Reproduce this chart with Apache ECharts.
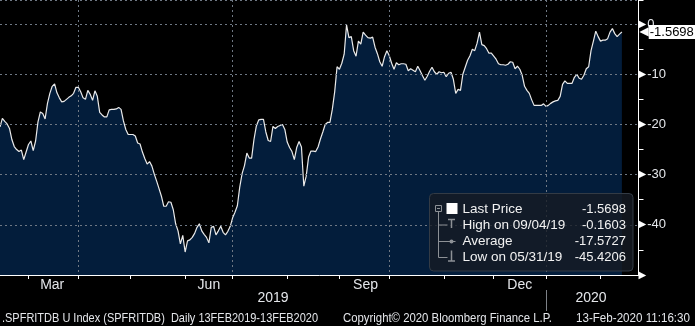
<!DOCTYPE html>
<html><head><meta charset="utf-8">
<script src="https://cdn.jsdelivr.net/npm/echarts@6/dist/echarts.min.js"></script>
<style>html,body{margin:0;padding:0;background:#000;overflow:hidden}#c{width:695px;height:326px}</style>
</head><body><div id="c"></div>
<script>
// ---------- data ----------
const startDate = [2019, 1, 13];      // 13 Feb 2019 (weekday calendar)
const categoryCount = 270;            // weekdays incl. right-hand padding
const values = [
-20.5,-18.8,-19.4,-19.9,-20.8,-23.0,-24.4,-25.0,-25.4,-25.1,
-27.0,-25.5,-24.0,-23.3,-25.2,-23.3,-19.5,-17.5,-17.8,-18.9,
-15.8,-13.8,-12.4,-11.9,-13.7,-14.7,-15.5,-15.4,-15.0,-14.6,
-14.3,-13.8,-12.6,-12.6,-13.5,-14.7,-15.0,-13.2,-14.0,-15.2,
-13.3,-14.4,-17.6,-18.1,-18.5,-18.5,-17.1,-17.0,-17.0,-16.9,
-16.6,-17.0,-19.3,-21.0,-22.0,-22.0,-22.0,-22.3,-23.7,-23.9,
-25.5,-26.8,-27.9,-27.4,-28.3,-29.9,-31.3,-32.8,-34.3,-36.3,
-36.3,-35.4,-35.5,-37.0,-39.8,-41.2,-43.8,-42.1,-45.4206,-43.2,
-43.0,-42.5,-41.7,-40.5,-39.8,-41.2,-41.9,-42.5,-43.6,-40.5,
-40.3,-42.0,-41.2,-40.3,-41.5,-42.0,-41.3,-40.3,-38.6,-37.5,
-36.2,-32.5,-29.8,-28.2,-25.7,-26.7,-26.7,-23.0,-20.3,-19.1,
-19.0,-19.0,-21.5,-23.2,-23.4,-20.4,-20.8,-20.4,-20.2,-20.0,
-21.0,-23.5,-24.6,-25.4,-27.0,-24.6,-23.4,-24.5,-32.3,-30.3,
-26.5,-25.3,-25.3,-25.4,-24.5,-22.9,-21.5,-20.0,-19.6,-19.6,
-17.0,-13.5,-8.5,-9.0,-7.8,-6.0,-0.1603,-2.7,-2.5,-5.3,
-6.4,-3.4,-4.0,-1.6,-2.2,-2.7,-2.8,-2.6,-4.6,-5.9,
-7.5,-8.4,-6.5,-5.3,-6.3,-7.8,-9.0,-7.7,-8.1,-7.9,
-7.9,-8.0,-9.3,-8.9,-9.2,-9.5,-8.4,-9.3,-10.3,-11.2,
-10.4,-9.4,-8.6,-9.5,-10.0,-9.5,-9.7,-9.6,-10.5,-9.8,
-9.6,-11.0,-13.8,-13.0,-13.2,-10.0,-8.6,-7.2,-6.3,-5.0,
-5.3,-3.8,-1.6,-4.1,-4.3,-4.9,-5.8,-5.8,-6.4,-7.0,
-7.9,-8.1,-8.1,-8.2,-8.0,-7.5,-7.6,-8.9,-8.4,-9.0,
-10.2,-12.4,-13.2,-13.8,-15.1,-16.2,-16.2,-16.2,-16.2,-15.9,
-16.4,-16.2,-15.8,-15.5,-15.3,-15.2,-14.4,-12.0,-11.3,-11.8,
-11.8,-11.8,-10.6,-10.0,-10.8,-11.0,-10.2,-8.9,-8.5,-5.3,
-3.4,-1.4,-2.5,-3.4,-3.2,-3.2,-2.9,-1.6,-0.9,-1.9,
-2.5,-2.0,-1.5698
];
const lastPrice = -1.5698;
const monthLabels = {'2019-03-15':'Mar','2019-06-17':'Jun','2019-09-17':'Sep','2019-12-17':'Dec'};
const yearLabels = {'2019-07-24':'2019','2020-01-28':'2020'};
const gridMonths = ['04','07','10','01'];
const yearBreak = '2020-01-01';
const yLabelValues = [0,-10,-20,-30,-40];
const legendNames = ['Last Price','High on 09/04/19','Average','Low on 05/31/19'];
const legendValues = ['-1.5698','-0.1603','-17.5727','-45.4206'];
const footerTexts = [
  '.SPFRITDB U Index (SPFRITDB)  Daily 13FEB2019-13FEB2020',
  'Copyright\u00A9 2020 Bloomberg Finance L.P.',
  '13-Feb-2020 11:16:30'
];

// ---------- categories (weekday calendar) ----------
const dates = [];
(function(){
  const d = new Date(Date.UTC(startDate[0], startDate[1], startDate[2]));
  while (dates.length < categoryCount) {
    const wd = d.getUTCDay();
    if (wd !== 0 && wd !== 6) dates.push(d.toISOString().slice(0,10));
    d.setUTCDate(d.getUTCDate() + 1);
  }
})();
const isMonthStart = i => i > 0 && dates[i].slice(5,7) !== dates[i-1].slice(5,7);
const isQuarterStart = i => isMonthStart(i) && gridMonths.indexOf(dates[i].slice(5,7)) >= 0;
const yearBreakDate = dates.find(d => d >= yearBreak);

const SANS = '"Liberation Sans",Arial,sans-serif';
const TXT = '#e4e6ea';
const GRID = '#6f7884';

// condensed text helper (no narrow font installed): squeeze to a target width
const mctx = document.createElement('canvas').getContext('2d');
function squeeze(text, size, target) {
  mctx.font = size + 'px "Liberation Sans"';
  const w = mctx.measureText(text).width;
  return Math.min(1, target / w);
}
const footerFont = 13.5;
const footerBoxes = [[2, 316, 'left'], [343, 209, 'left'], [690, 114, 'right']];
const footerEls = footerTexts.map((t, k) => ({
  type: 'text', x: footerBoxes[k][0], y: 318.5, scaleX: squeeze(t, footerFont, footerBoxes[k][1]), z: 100,
  style: {text: t, fill: TXT, font: footerFont + 'px ' + SANS, textAlign: footerBoxes[k][2], textVerticalAlign: 'middle'}
}));

// ---------- legend box (graphic) ----------
const gx = 429.5, gy = 193.5;
const rowY = [15.5, 31.5, 48, 64];
const grey = '#8d9196';
const Z = 100;
const legendChildren = [
  {type:'rect', z:Z, shape:{x:0,y:0,width:203.5,height:77.5,r:4}, style:{fill:'rgba(22,28,36,0.8)', stroke:'#333b45', lineWidth:1}},
  {type:'rect', z:Z, shape:{x:6,y:12,width:6,height:6}, style:{fill:'none', stroke:grey, lineWidth:1}},
  {type:'line', z:Z, shape:{x1:7.5,y1:15,x2:10.5,y2:15}, style:{stroke:grey, lineWidth:1}},
  {type:'line', z:Z, shape:{x1:9,y1:18,x2:9,y2:rowY[3]}, style:{stroke:grey, lineWidth:1}},
  {type:'line', z:Z, shape:{x1:9,y1:rowY[1],x2:18,y2:rowY[1]}, style:{stroke:grey, lineWidth:1}},
  {type:'line', z:Z, shape:{x1:9,y1:rowY[2],x2:26,y2:rowY[2]}, style:{stroke:grey, lineWidth:1}},
  {type:'line', z:Z, shape:{x1:9,y1:rowY[3],x2:18,y2:rowY[3]}, style:{stroke:grey, lineWidth:1}},
  {type:'rect', z:Z, shape:{x:17,y:9.5,width:11,height:11}, style:{fill:'#ffffff'}},
  {type:'line', z:Z, shape:{x1:18.5,y1:rowY[1]-5.5,x2:25.5,y2:rowY[1]-5.5}, style:{stroke:grey, lineWidth:1.5}},
  {type:'line', z:Z, shape:{x1:22,y1:rowY[1]-5.5,x2:22,y2:rowY[1]+3}, style:{stroke:grey, lineWidth:1.5}},
  {type:'circle', z:Z, shape:{cx:22,cy:rowY[2],r:2}, style:{fill:grey}},
  {type:'line', z:Z, shape:{x1:22,y1:rowY[3]-7,x2:22,y2:rowY[3]+3.5}, style:{stroke:grey, lineWidth:1.5}},
  {type:'line', z:Z, shape:{x1:18.5,y1:rowY[3]+3.5,x2:25.5,y2:rowY[3]+3.5}, style:{stroke:grey, lineWidth:1.5}}
];
legendNames.forEach((n, k) => {
  legendChildren.push({type:'text', z:Z, x:33, y:rowY[k], style:{text:n, fill:'#f2f2f2', font:'13.5px ' + SANS, textVerticalAlign:'middle', textAlign:'left'}});
  legendChildren.push({type:'text', z:Z, x:196.5, y:rowY[k], style:{text:legendValues[k], fill:'#f2f2f2', font:'13px ' + SANS, textVerticalAlign:'middle', textAlign:'right'}});
});

const chart = echarts.init(document.getElementById('c'), null, {renderer:'canvas'});
chart.setOption({
  backgroundColor: '#000000',
  animation: false,
  grid: {left: -1.5, right: 56.5, top: -3, bottom: 51, containLabel: false},
  xAxis: [
    {
      type: 'category', data: dates, boundaryGap: false, z: 10,
      axisLine: {show: true, onZero: false, lineStyle: {color: '#ffffff', width: 1}},
      axisTick: {show: true, length: 4, interval: (i) => isMonthStart(i), lineStyle: {color: '#ffffff'}},
      axisLabel: {show: true, interval: (i, v) => !!monthLabels[v], formatter: v => monthLabels[v] || '',
                  color: TXT, fontSize: 14, fontFamily: SANS, margin: 3},
      splitLine: {show: true, interval: (i) => isQuarterStart(i), lineStyle: {color: GRID, type: [2,3], width: 1}}
    },
    {
      type: 'category', data: dates, boundaryGap: false, position: 'bottom', offset: 15, z: 10,
      axisLine: {show: false, onZero: false},
      axisTick: {show: true, length: 21, interval: (i, v) => v === yearBreakDate, lineStyle: {color: '#7d8187'}},
      axisLabel: {show: true, interval: (i, v) => !!yearLabels[v], formatter: v => yearLabels[v] || '',
                  color: TXT, fontSize: 14, fontFamily: SANS, margin: 1},
      splitLine: {show: false}
    }
  ],
  yAxis: [
    {
      type: 'value', position: 'right', min: -50, max: 4.8, interval: 10, z: 10,
      axisLine: {show: true, onZero: false, lineStyle: {color: '#ffffff', width: 1}},
      axisTick: {show: false},
      splitLine: {show: true, lineStyle: {color: GRID, type: [2,3], width: 1}},
      axisLabel: {
        show: true, margin: 0, showMinLabel: true, showMaxLabel: true,
        formatter: v => {
          if (v === -50) return '{t|\u25B6}';
          return yLabelValues.indexOf(v) >= 0 ? '{t|\u25B6}{v|' + v + '}' : '';
        },
        rich: {
          t: {fontSize: 10, fontFamily: 'DejaVu Sans', color: '#ffffff', padding: [0,1,0,0]},
          v: {fontSize: 13, fontFamily: SANS, color: TXT}
        }
      }
    },
    {
      type: 'value', position: 'right', min: -50, max: 4.8, interval: 5, z: 10,
      axisLine: {show: false, onZero: false}, splitLine: {show: false}, axisLabel: {show: false},
      axisTick: {show: true, inside: false, length: 5, lineStyle: {color: '#ffffff'}}
    }
  ],
  series: [{
    type: 'line', xAxisIndex: 0, yAxisIndex: 0, data: values,
    symbol: 'none', showSymbol: false,
    lineStyle: {color: '#eaeaea', width: 1.2},
    areaStyle: {color: '#031d3b', origin: 'start', opacity: 1},
    markLine: {
      silent: true, symbol: 'none', animation: false, z: 20,
      lineStyle: {color: 'rgba(0,0,0,0)', width: 0},
      data: [{yAxis: lastPrice}],
      label: {show: true, position: 'end', distance: 1,
              formatter: '{a|\u25C0}{b|' + lastPrice + '}',
              rich: {
                a: {color: '#ffffff', fontSize: 12, fontFamily: 'DejaVu Sans', padding: [0, 0, 0, 0]},
                b: {backgroundColor: '#ffffff', color: '#000000', fontSize: 13, fontFamily: SANS, padding: [1, 3, 0, 1]}
              }}
    }
  }],
  graphic: [{type: 'group', x: gx, y: gy, z: Z, children: legendChildren}].concat(footerEls)
});
</script>
</body></html>
